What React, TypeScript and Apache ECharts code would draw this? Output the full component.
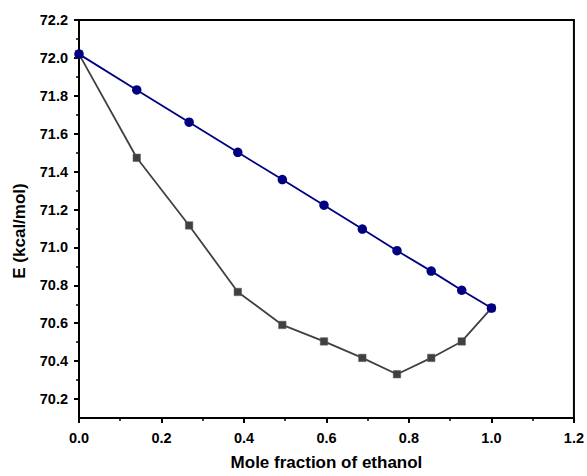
import React, { useEffect, useRef } from "react";
import * as echarts from "echarts";

const xValues = [0, 0.14, 0.267, 0.385, 0.493, 0.594, 0.687, 0.771, 0.854, 0.928, 1.0];
const linearE = [72.02, 71.831, 71.661, 71.502, 71.358, 71.223, 71.097, 70.983, 70.875, 70.774, 70.68];
const curvedE = [72.02, 71.473, 71.116, 70.765, 70.591, 70.504, 70.417, 70.331, 70.417, 70.504, 70.68];
const yMajorTicks = [70.2, 70.4, 70.6, 70.8, 71.0, 71.2, 71.4, 71.6, 71.8, 72.0, 72.2];
const yMinorTicks = [70.3, 70.5, 70.7, 70.9, 71.1, 71.3, 71.5, 71.7, 71.9, 72.1];

export default function App() {
  const ref = useRef<HTMLDivElement>(null);
  useEffect(() => {
    document.body.style.margin = "0";
    const chart = echarts.init(ref.current!, null, { renderer: "svg" });
    const font = "Liberation Sans, Arial, Helvetica, sans-serif";
    const yCommon = {
      type: "value",
      min: 70.1,
      max: 72.2,
      splitLine: { show: false },
    };
    chart.setOption({
      animation: false,
      backgroundColor: "#fff",
      grid: {
        left: 79,
        top: 20,
        right: 13,
        bottom: 53,
        show: true,
        borderColor: "#000",
        borderWidth: 2,
        backgroundColor: "transparent",
      },
      xAxis: {
        type: "value",
        min: 0,
        max: 1.2,
        interval: 0.2,
        name: "Mole fraction of ethanol",
        nameLocation: "middle",
        nameGap: 36,
        nameTextStyle: { fontFamily: font, fontWeight: "bold", fontSize: 17, color: "#000" },
        axisLine: { lineStyle: { color: "#000", width: 2 } },
        axisTick: { length: 5, lineStyle: { color: "#000", width: 2 } },
        minorTick: { show: true, splitNumber: 2, length: 3, lineStyle: { color: "#000", width: 1.5 } },
        splitLine: { show: false },
        axisLabel: {
          fontFamily: font,
          fontWeight: "bold",
          fontSize: 14.5,
          color: "#000",
          margin: 12,
          formatter: (v: number) => v.toFixed(1),
        },
      },
      yAxis: [
        {
          ...yCommon,
          axisLine: { show: true, lineStyle: { color: "#000", width: 2 } },
          axisTick: { show: true, length: 5, customValues: yMajorTicks, lineStyle: { color: "#000", width: 2 } },
          axisLabel: {
            customValues: yMajorTicks,
            fontFamily: font,
            fontWeight: "bold",
            fontSize: 14.5,
            color: "#000",
            margin: 11,
            formatter: (v: number) => v.toFixed(1),
          },
        },
        {
          ...yCommon,
          position: "left",
          axisLine: { show: false },
          axisTick: { show: true, length: 3, customValues: yMinorTicks, lineStyle: { color: "#000", width: 1.5 } },
          axisLabel: { show: false },
        },
      ],
      graphic: [
        {
          type: "text",
          x: 19,
          y: 231,
          rotation: Math.PI / 2,
          style: {
            text: "E (kcal/mol)",
            fontFamily: font,
            fontWeight: "bold",
            fontSize: 17,
            fill: "#000",
            align: "center",
            verticalAlign: "middle",
          },
        },
      ],
      series: [
        {
          type: "line",
          data: xValues.map((x, i) => [x, curvedE[i]]),
          symbol: "rect",
          symbolSize: 7.5,
          lineStyle: { color: "#404040", width: 1.8 },
          itemStyle: { color: "#404040", borderColor: "#606060", borderWidth: 0.5 },
          z: 2,
        },
        {
          type: "line",
          data: xValues.map((x, i) => [x, linearE[i]]),
          symbol: "circle",
          symbolSize: 9.5,
          lineStyle: { color: "#000080", width: 1.8 },
          itemStyle: { color: "#000080" },
          z: 5,
        },
      ],
    });
    return () => chart.dispose();
  }, []);
  return <div ref={ref} style={{ width: 587, height: 476 }} />;
}
